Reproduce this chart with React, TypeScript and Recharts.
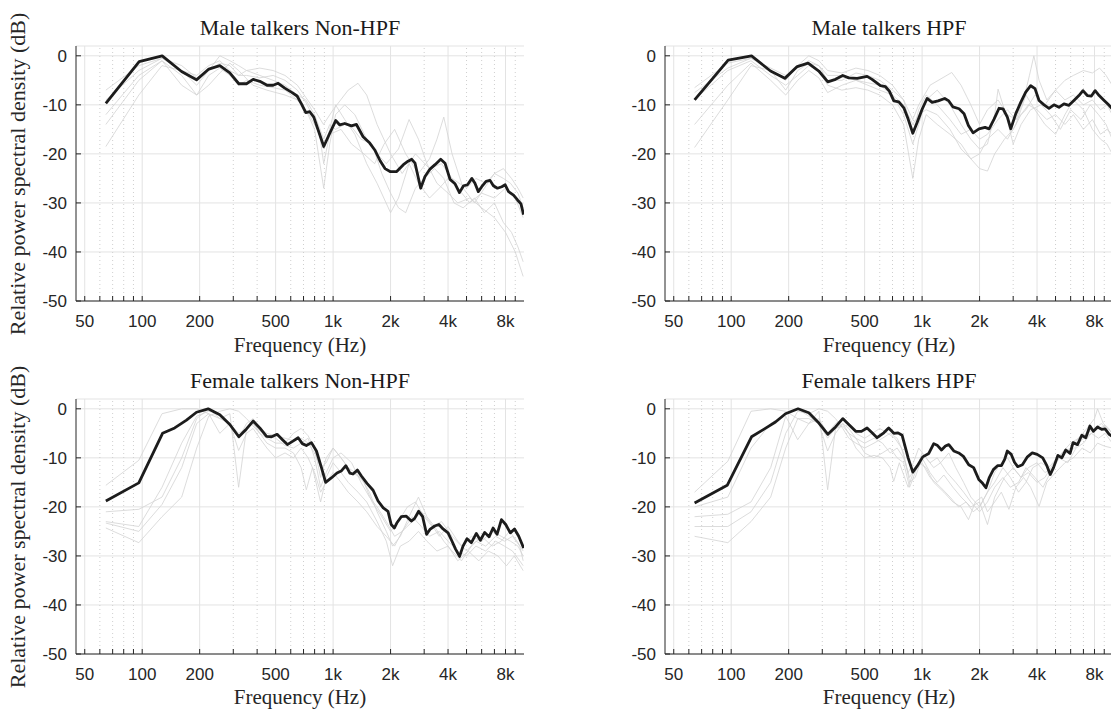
import React from 'react';
import { LineChart, Line, XAxis, YAxis, CartesianGrid, ReferenceLine } from 'recharts';

type Pt = [number, number];

// ---------- axes ----------
const xMajorTicks = [50, 100, 200, 500, 1000, 2000, 4000, 8000];
const xMajorLabels = ['50', '100', '200', '500', '1k', '2k', '4k', '8k'];
const xMinorTicks = [60, 70, 80, 90, 300, 400, 600, 700, 800, 900, 3000, 5000, 6000, 7000, 9000];
const yTicks = [-50, -40, -30, -20, -10, 0];
const xDomain: [number, number] = [45, 10000];
const yDomain: [number, number] = [-50, 2];

const panelTitles = ['Male talkers Non-HPF', 'Male talkers HPF', 'Female talkers Non-HPF', 'Female talkers HPF'];
const xAxisTitle = 'Frequency (Hz)';
const yAxisTitle = 'Relative power spectral density (dB)';

// ---------- Male talkers Non-HPF ----------
const maleNonHpfMean: Pt[] = [[64.5,-9.7],[96.4,-1.2],[127.3,0],[160.7,-3.2],[192.5,-4.9],[223.4,-2.7],[255,-2.0],[287.7,-3.5],[320.7,-5.7],[351.8,-5.7],[381.3,-4.8],[413.2,-5.2],[451.2,-6.0],[485.2,-6.0],[515.3,-5.6],[558.4,-6.6],[609.9,-7.5],[647.7,-8.2],[682.6,-9.8],[719.3,-11.6],[754.8,-11.4],[792.1,-12.5],[844.6,-15.7],[893.4,-18.5],[960.5,-15.8],[1032,-13.2],[1084,-14.1],[1151,-13.8],[1247,-14.3],[1325,-14.0],[1436,-16.5],[1556,-17.8],[1653,-19.2],[1763,-21.4],[1870,-23.0],[1988,-23.6],[2154,-23.6],[2334,-22.2],[2470,-21.5],[2582,-21.1],[2687,-21.9],[2876,-27.0],[3030,-24.6],[3218,-23.1],[3419,-22.2],[3662,-21.1],[3857,-21.9],[4098,-25.2],[4354,-26.1],[4590,-27.9],[4822,-26.5],[5060,-26.3],[5334,-25.0],[5534,-26.0],[5763,-27.7],[6005,-26.7],[6327,-25.6],[6640,-25.4],[6911,-26.5],[7260,-27.0],[7650,-26.7],[7969,-26.3],[8300,-27.7],[8810,-28.4],[9250,-29.4],[9640,-30.2],[9950,-32.4]];
const maleNonHpfT1: Pt[] = [[64.5,-7],[96,-2],[127,-0.5],[161,-3],[193,-4],[223,-2],[255,-1],[288,-3],[320,-4],[352,-3],[413,-2.5],[485,-3],[560,-4],[650,-6],[720,-8.5],[800,-11],[890,-14],[1000,-11],[1200,-7],[1350,-5.6],[1500,-8],[1700,-14],[2000,-20],[2300,-24],[2700,-20],[3200,-23],[3700,-22],[4200,-25],[5000,-27],[5600,-25],[6300,-26],[7000,-24],[7800,-25],[8500,-26],[9300,-28],[9900,-31]];
const maleNonHpfT2: Pt[] = [[64.5,-14],[96,-5],[127,-1],[161,-4],[193,-8],[223,-6],[255,-3.5],[288,-1.5],[320,-3],[380,-6],[450,-7],[560,-8],[650,-9],[720,-11],[800,-15],[893,-27],[960,-18],[1030,-12],[1150,-10],[1300,-12],[1500,-17],[1700,-20],[1900,-22],[2200,-19],[2500,-13],[2800,-17],[3100,-22],[3500,-26],[4000,-28],[4500,-30],[5200,-29],[6000,-31],[7000,-33],[8000,-36],[9000,-40],[9900,-45]];
const maleNonHpfT3: Pt[] = [[64.5,-18.5],[96,-8],[127,-2],[161,-3],[193,-6],[223,-3],[255,0],[288,-1],[320,-2],[352,-3],[413,-4],[485,-5],[560,-6],[650,-8],[720,-9],[800,-12],[893,-17],[960,-14],[1030,-15],[1150,-14],[1250,-14.5],[1400,-17],[1600,-18],[1800,-24],[2000,-28],[2200,-31],[2400,-32],[2700,-27],[3000,-25],[3400,-23],[3800,-25],[4300,-30],[4800,-31],[5500,-29],[6200,-32],[7000,-30],[7800,-34],[8600,-36],[9300,-39],[9900,-42]];
const maleNonHpfT4: Pt[] = [[64.5,-12],[96,-4],[127,-1],[161,-6],[193,-8],[223,-4],[255,-2.5],[288,-4],[320,-6],[352,-5],[413,-6],[485,-6.5],[560,-7],[650,-9],[750,-12],[850,-16],[893,-22],[960,-16],[1100,-15],[1250,-18],[1450,-20],[1650,-22],[1850,-18],[2100,-15],[2400,-20],[2800,-24],[3200,-21],[3500,-17],[3800,-12.5],[4200,-20],[4800,-27],[5500,-30],[6200,-27],[7000,-24],[7800,-23],[8600,-25],[9300,-27],[9900,-29]];
const maleNonHpfT5: Pt[] = [[64.5,-9],[96,-3],[127,-0.5],[161,-2],[193,-4.5],[223,-3],[255,-1.5],[288,-2],[320,-4],[352,-4],[413,-4.5],[485,-4],[560,-5],[650,-7],[720,-9.5],[800,-13],[893,-19],[960,-15],[1030,-10],[1150,-13],[1300,-16],[1500,-22],[1700,-26],[2000,-32],[2200,-29],[2500,-22],[2800,-26],[3200,-29],[3600,-27],[4000,-25],[4500,-27],[5200,-30],[6000,-28],[7000,-29],[8000,-27],[9000,-29],[9900,-33]];

// ---------- Male talkers HPF ----------
const maleHpfMean: Pt[] = [[64.3,-9.0],[96.4,-0.9],[127.8,0],[160.7,-3.1],[191,-4.6],[221.6,-2.2],[253,-1.5],[287.7,-3.1],[320.7,-5.3],[351.8,-4.8],[384,-4.0],[413,-4.5],[457,-4.6],[515,-4.2],[547,-4.8],[605,-6.1],[643,-6.3],[674,-7.2],[711,-9.2],[755,-9.4],[802,-10.6],[845,-12.9],[894,-15.8],[942,-13.6],[1000,-10.9],[1062,-8.7],[1128,-9.5],[1213,-9.2],[1314,-8.7],[1380,-9.2],[1449,-10.4],[1562,-10.8],[1659,-11.8],[1748,-14.2],[1849,-15.7],[1987,-14.9],[2137,-14.6],[2244,-14.9],[2382,-12.9],[2530,-10.7],[2653,-10.8],[2797,-12.5],[2914,-14.9],[3096,-11.8],[3286,-9.5],[3490,-7.4],[3706,-6.1],[3904,-6.7],[4098,-9.1],[4353,-10.0],[4620,-10.7],[4907,-10.0],[5211,-10.5],[5534,-9.8],[5877,-10.1],[6241,-9.1],[6628,-8.1],[6961,-7.1],[7335,-8.1],[7705,-8.2],[8062,-7.1],[8461,-8.1],[8985,-9.1],[9542,-10.1],[9900,-10.8]];
const maleHpfT1: Pt[] = [[64.3,-6.5],[96,-1.5],[127,-0.5],[161,-3],[193,-5],[223,-2],[255,0],[288,-1],[320,-3],[380,-3.5],[450,-2.5],[520,-3],[600,-4],[700,-6],[800,-9],[894,-13],[960,-10],[1100,-6],[1430,-3.4],[1600,-6],[1800,-10],[2000,-14],[2200,-11],[2500,-9],[2800,-12],[3100,-13],[3400,-9],[3650,-4],[3850,0],[4100,-5],[4500,-9],[5000,-7],[5600,-9],[6200,-8],[7000,-10],[7800,-9],[8600,-11],[9300,-10],[9900,-12]];
const maleHpfT2: Pt[] = [[64.3,-8.9],[96,-3],[127,-1],[161,-4],[193,-6],[223,-4],[255,-2],[288,-3],[320,-6],[380,-7],[450,-6.5],[520,-7],[600,-8],[700,-10],[800,-14],[894,-25],[960,-17],[1050,-12],[1200,-14],[1400,-16],[1600,-18],[1800,-21],[2000,-23],[2200,-23.5],[2400,-20],[2700,-17],[3000,-15],[3300,-12],[3600,-10],[4000,-11],[4500,-13],[5000,-12],[5600,-14],[6200,-12],[7000,-15],[7800,-13],[8600,-16],[9300,-15],[9900,-16]];
const maleHpfT3: Pt[] = [[64.3,-14],[96,-6],[127,-1.5],[161,-5],[193,-8],[223,-5],[255,-3],[288,-4.5],[320,-7.5],[380,-6],[450,-5],[520,-6],[600,-7],[700,-8],[800,-12],[894,-18],[960,-14],[1050,-9],[1200,-7],[1400,-10],[1600,-14],[1800,-17],[2000,-19],[2200,-18],[2400,-12],[2500,-6.8],[2750,-12],[3000,-18],[3300,-14],[3700,-11],[4200,-10],[4700,-12],[5300,-15],[6000,-11],[6800,-13],[7600,-10],[8400,-12],[9200,-14],[9900,-17]];
const maleHpfT4: Pt[] = [[64.3,-18.7],[96,-9],[127,-2],[161,-3],[193,-7],[223,-3],[255,-1.5],[288,-2],[320,-4],[380,-4],[450,-5],[520,-5.5],[600,-6],[700,-8],[800,-10],[894,-14],[960,-12],[1050,-11],[1200,-12],[1400,-15],[1600,-19],[1800,-21],[2000,-20],[2200,-17],[2500,-15],[2800,-17],[3100,-14],[3500,-8],[3900,-11],[4400,-14],[5000,-16],[5600,-12],[6200,-9],[7000,-11],[7800,-15],[8600,-17],[9300,-18],[9900,-20]];
const maleHpfT5: Pt[] = [[64.3,-7.5],[96,-2.5],[127,-0.5],[161,-2.5],[193,-4],[223,-2.5],[255,-1],[288,-2],[320,-5],[380,-5],[450,-3.5],[520,-4],[600,-5],[700,-7],[800,-9],[894,-16],[960,-11],[1050,-8],[1200,-10],[1400,-13],[1600,-16],[1800,-15],[2000,-17],[2200,-16],[2500,-13],[2800,-11],[3100,-13],[3500,-11],[3900,-8],[4400,-10],[5000,-7],[5600,-5],[6200,-4],[7000,-3],[7800,-3.5],[8500,-2.5],[9200,-4],[9900,-6]];

// ---------- Female talkers Non-HPF ----------
const femaleNonHpfMean: Pt[] = [[64.5,-18.8],[96,-15.1],[127.8,-5.0],[148,-3.9],[170.6,-2.3],[192.5,-0.7],[221.6,0],[255,-1.2],[287.7,-3.2],[320.7,-5.7],[351.8,-4.1],[381,-2.5],[413,-3.9],[448,-5.6],[476,-5.7],[509,-5.2],[543,-6.3],[576,-7.3],[616,-6.6],[656,-5.9],[690,-7.1],[724,-7.5],[770,-6.9],[818,-8.6],[869,-12.0],[914,-15.0],[979,-14.1],[1048,-13.1],[1102,-12.7],[1166,-11.6],[1224,-13.1],[1271,-13.3],[1341,-12.5],[1407,-13.7],[1505,-15.2],[1620,-16.6],[1720,-18.8],[1831,-20.2],[1939,-20.9],[2015,-23.6],[2095,-24.3],[2156,-23.3],[2275,-22.0],[2418,-21.9],[2568,-22.9],[2669,-22.4],[2807,-20.9],[2945,-22.0],[3091,-25.6],[3215,-24.6],[3406,-23.9],[3584,-23.6],[3767,-24.5],[4000,-25.3],[4163,-26.7],[4381,-28.6],[4597,-30.1],[4793,-28.0],[5030,-26.5],[5302,-27.3],[5628,-25.4],[5908,-26.8],[6223,-25.2],[6560,-26.1],[6887,-24.3],[7225,-25.6],[7617,-22.6],[8022,-23.6],[8480,-25.3],[8920,-24.5],[9386,-26.0],[9955,-28.4]];
const femaleNonHpfT1: Pt[] = [[64.5,-15.6],[96,-10.5],[127,-1],[161,0],[193,0],[223,-1],[255,-2],[288,-3],[320,-6],[352,-3],[381,-2],[413,-4],[450,-5],[500,-5.5],[560,-6],[620,-6.5],[680,-6],[740,-7],[800,-9],[860,-12],[920,-11],[1000,-8],[1100,-10],[1200,-12],[1300,-13],[1450,-15],[1600,-19],[1800,-22],[2000,-25],[2200,-23],[2450,-20],[2700,-19],[3000,-22],[3300,-24],[3700,-23],[4200,-26],[4700,-28],[5300,-26],[6000,-27],[6800,-25],[7600,-26],[8500,-27],[9300,-28],[9900,-30]];
const femaleNonHpfT2: Pt[] = [[64.5,-21],[96,-20.5],[127,-18],[161,-10],[193,-2],[223,0],[255,-2],[288,-1],[320,-16],[352,-4],[381,-3],[413,-5],[450,-7],[500,-8],[560,-8],[620,-9],[680,-12],[724,-16.5],[780,-12],[860,-19],[920,-14],[1000,-11],[1100,-13],[1200,-15],[1350,-17],[1500,-19],[1700,-23],[1900,-27],[2050,-32],[2250,-28],[2500,-27],[2800,-25],[3100,-27],[3500,-29],[4000,-28],[4500,-31],[5100,-29],[5800,-31],[6500,-29],[7300,-30],[8100,-32],[8900,-30],[9900,-33]];
const femaleNonHpfT3: Pt[] = [[64.5,-23.3],[96,-25],[127,-19.5],[161,-12],[193,-3],[223,-1],[255,-5],[288,-3],[320,-8.5],[352,-5],[381,-4],[413,-6],[450,-8],[500,-10],[560,-9],[620,-10],[680,-8],[740,-10],[800,-13],[860,-17],[920,-15],[1000,-13],[1100,-15],[1200,-17],[1350,-19],[1500,-21],[1700,-24],[1900,-26],[2100,-28],[2300,-25],[2600,-22],[2900,-24],[3200,-26],[3600,-25],[4000,-27],[4500,-29],[5000,-30],[5600,-28],[6300,-29],[7100,-27],[7900,-28],[8700,-29],[9500,-31],[9900,-32]];
const femaleNonHpfT4: Pt[] = [[64.5,-24.3],[96,-27.3],[127,-22],[161,-18],[193,-8],[223,-1.5],[255,-0.5],[288,0],[320,-0.5],[352,-2],[381,-3.5],[413,-5],[450,-6],[500,-7],[560,-7],[620,-5],[680,-4],[740,-5.5],[800,-8],[860,-14],[920,-10],[1000,-8],[1100,-10],[1250,-13],[1400,-14],[1550,-17],[1700,-21],[1900,-25],[2050,-28],[2250,-26],[2500,-22],[2800,-18],[3100,-22],[3400,-24],[3800,-27],[4200,-29],[4700,-31],[5300,-28],[6000,-26],[6800,-28],[7600,-27],[8400,-25],[9200,-27],[9900,-29]];
const femaleNonHpfT5: Pt[] = [[64.5,-23],[96,-24],[127,-16],[161,-7],[193,-1.5],[223,-0.5],[255,-1],[288,-3],[320,-5],[352,-4],[381,-3],[413,-4.5],[450,-5.5],[500,-6],[560,-7.5],[620,-8],[680,-7],[740,-6],[800,-10],[860,-16],[920,-13],[1000,-10],[1100,-9],[1250,-11],[1400,-15],[1550,-18],[1700,-20],[1900,-23],[2100,-26],[2300,-25],[2600,-23],[2900,-21],[3200,-23],[3600,-26],[4000,-24],[4500,-27],[5000,-29],[5600,-27],[6300,-28],[7100,-26],[7900,-27],[8700,-26],[9500,-28],[9900,-31]];

// ---------- Female talkers HPF ----------
const femaleHpfMean: Pt[] = [[64.3,-19.2],[95.3,-15.6],[127.8,-5.7],[148,-4.2],[170.6,-2.7],[192.5,-1.0],[224,0],[255,-0.8],[288,-2.9],[321,-5.2],[352,-3.7],[384,-2.0],[413,-3.2],[449,-4.6],[481,-4.6],[515,-3.9],[547,-4.9],[581,-5.9],[630,-4.9],[668,-3.9],[711,-5.0],[748,-4.9],[786,-5.4],[845,-10.0],[894,-12.9],[942,-11.7],[1008,-9.8],[1084,-9.1],[1151,-7.1],[1205,-7.5],[1264,-8.4],[1325,-7.6],[1380,-7.3],[1465,-8.6],[1555,-9.0],[1646,-9.7],[1755,-11.4],[1862,-12.0],[1981,-14.4],[2075,-15.2],[2159,-16.1],[2245,-14.1],[2362,-12.4],[2484,-11.6],[2604,-11.6],[2707,-10.3],[2795,-8.6],[2932,-9.3],[3047,-10.9],[3167,-11.8],[3353,-11.4],[3562,-9.8],[3776,-9.0],[4008,-9.3],[4285,-10.0],[4504,-11.6],[4689,-13.4],[4882,-12.0],[5143,-9.5],[5393,-10.0],[5657,-8.4],[5958,-9.1],[6178,-6.9],[6517,-7.3],[6862,-5.4],[7202,-5.9],[7570,-3.5],[7888,-4.6],[8297,-3.7],[8725,-4.2],[9090,-4.1],[9551,-5.2],[9900,-5.6]];
const femaleHpfT1: Pt[] = [[64.3,-17],[96,-10.7],[127,-0.5],[161,0],[193,-0.5],[223,-2],[255,-3],[288,-2],[320,-5],[352,-3],[384,-2],[413,-3],[450,-5],[500,-6],[550,-5],[600,-4],[660,-5],[720,-6],[780,-8],[845,-13],[900,-11],[960,-8],[1050,-10],[1150,-12],[1250,-11],[1380,-9],[1500,-12],[1650,-15],[1800,-18],[2000,-20],[2200,-17],[2400,-13],[2600,-11],[2800,-10],[3000,-12],[3300,-14],[3600,-12],[4000,-11],[4400,-13],[4900,-12],[5400,-9],[6000,-8],[6600,-6],[7300,-5],[8000,-4],[8700,-3],[9400,-4.5],[9900,-6]];
const femaleHpfT2: Pt[] = [[64.3,-22],[96,-21.5],[127,-19],[161,-12],[193,-1.5],[223,-6.3],[255,-3],[288,-0.5],[320,-16.5],[352,-4],[384,-3],[413,-5],[450,-8],[500,-10],[560,-9.5],[620,-10],[680,-12],[710,-14.8],[760,-11],[845,-16],[900,-13],[960,-11],[1050,-12],[1150,-15],[1300,-17],[1450,-19],[1600,-20],[1750,-22.6],[1900,-19],[2050,-18],[2200,-21],[2400,-19],[2600,-17],[2850,-20.5],[3100,-16],[3400,-14],[3700,-16],[4100,-19.9],[4500,-15],[5000,-13],[5600,-11],[6200,-10],[6900,-8],[7600,-9],[8300,-7],[9000,-7.6],[9900,-8]];
const femaleHpfT3: Pt[] = [[64.3,-24],[96,-24],[127,-21],[161,-15],[193,-5],[223,-0.5],[255,-1],[288,0],[320,-0.5],[352,-2],[384,-4],[413,-6],[450,-7],[500,-8],[560,-7],[620,-6],[680,-5],[740,-6],[800,-9],[860,-15],[920,-14],[1000,-10],[1100,-13],[1200,-15],[1300,-13.5],[1450,-16],[1600,-18],[1800,-20],[2000,-19],[2200,-23.6],[2400,-18],[2700,-14],[3000,-12],[3300,-14],[3600,-13],[4000,-15],[4400,-14],[4900,-11],[5400,-9],[6000,-7],[6600,-6],[7300,-4],[8000,-2],[8300,0],[8900,-3],[9500,-4],[9900,-5]];
const femaleHpfT4: Pt[] = [[64.3,-26],[96,-27.3],[127,-23],[161,-18],[193,-8],[223,-2],[255,-2],[288,-3],[320,-8.6],[352,-5],[384,-3],[413,-4],[450,-6],[500,-9],[560,-10],[620,-9],[680,-8],[740,-10],[800,-11],[860,-16],[920,-13],[1000,-9],[1100,-11],[1200,-10],[1350,-13],[1500,-15],[1650,-17],[1800,-19],[2000,-21],[2200,-19],[2400,-16],[2650,-14],[2900,-16],[3200,-15],[3500,-12],[3900,-14],[4300,-16],[4700,-13],[5200,-10],[5800,-11],[6400,-8],[7000,-7],[7700,-5],[8400,-6],[9100,-5],[9900,-7]];
const femaleHpfT5: Pt[] = [[64.3,-20],[96,-18],[127,-8],[161,-3],[193,-1],[223,0],[255,-1.5],[288,-3],[320,-6],[352,-4],[384,-3.5],[413,-5],[450,-6],[500,-7],[560,-6],[620,-7],[680,-9],[740,-8],[800,-10],[860,-14],[920,-12],[1000,-11],[1100,-14],[1250,-16],[1400,-18],[1550,-20],[1700,-19],[1850,-21],[2000,-20],[2200,-17],[2400,-15],[2650,-12],[2900,-14],[3200,-17],[3500,-15],[3800,-12],[4200,-11],[4600,-12],[5100,-10],[5700,-9],[6300,-8],[7000,-6],[7700,-5],[8400,-4],[9100,-3.5],[9900,-5]];

const toRows = (pts: Pt[]) => pts.map(([f, v]) => ({ f, v }));

const AXIS_COLOR = '#262626';
const SANS = '"Liberation Sans", Arial, Helvetica, sans-serif';
const SERIF = '"Liberation Serif", "Times New Roman", serif';

const allXTicks = [...xMajorTicks, ...xMinorTicks].sort((a, b) => a - b);

const XTick = (props: any) => {
  const { x, y, payload } = props;
  const idx = xMajorTicks.indexOf(payload.value);
  if (idx < 0) return <g />;
  return (
    <text x={x} y={y} textAnchor="middle" fill={AXIS_COLOR} fontSize={17} fontFamily={SANS}>
      {xMajorLabels[idx]}
    </text>
  );
};

const YTick = (props: any) => {
  const { x, y, payload } = props;
  return (
    <text x={x} y={y} dy="0.36em" textAnchor="end" fill={AXIS_COLOR} fontSize={17} fontFamily={SANS}>
      {String(payload.value)}
    </text>
  );
};

const CHART_W = 560;
const CHART_H = 355;

function Panel({ mean, talkers, left, top }: { mean: Pt[]; talkers: Pt[][]; left: number; top: number }) {
  return (
    <div style={{ position: 'absolute', left, top, width: CHART_W, height: CHART_H }}>
      <LineChart width={CHART_W} height={CHART_H} margin={{ top: 46, right: 36, bottom: 24, left: 26 }}>
        <CartesianGrid vertical={false} stroke="#e3e3e3" strokeWidth={1} />
        {xMinorTicks.map((t) => (
          <ReferenceLine key={'mn' + t} x={t} stroke="#cfcfcf" strokeDasharray="1 3" strokeWidth={1} />
        ))}
        {xMajorTicks.map((t) => (
          <ReferenceLine key={'mj' + t} x={t} stroke="#e3e3e3" strokeWidth={1} />
        ))}
        <XAxis
          dataKey="f"
          type="number"
          scale="log"
          domain={xDomain}
          allowDataOverflow
          ticks={allXTicks}
          interval={0}
          tickSize={-5}
          tickMargin={31}
          tick={<XTick />}
          stroke={AXIS_COLOR}
          height={30}
        />
        <XAxis
          xAxisId="top"
          orientation="top"
          dataKey="f"
          type="number"
          scale="log"
          domain={xDomain}
          allowDataOverflow
          ticks={allXTicks}
          interval={0}
          tickSize={-5}
          tick={false}
          stroke={AXIS_COLOR}
          height={0}
        />
        <YAxis
          type="number"
          domain={yDomain}
          allowDataOverflow
          ticks={yTicks}
          interval={0}
          tickSize={-5}
          tickMargin={14}
          tick={<YTick />}
          stroke={AXIS_COLOR}
          width={50}
        />
        <YAxis
          yAxisId="right"
          orientation="right"
          type="number"
          domain={yDomain}
          allowDataOverflow
          ticks={yTicks}
          interval={0}
          tickSize={-5}
          tick={false}
          stroke={AXIS_COLOR}
          width={0}
        />
        {talkers.map((t, i) => (
          <Line
            key={'t' + i}
            data={toRows(t)}
            dataKey="v"
            type="linear"
            stroke="#d3d3d3"
            strokeWidth={0.8}
            dot={false}
            activeDot={false}
            isAnimationActive={false}
          />
        ))}
        <Line
          data={toRows(mean)}
          dataKey="v"
          type="linear"
          stroke="#1c1c1c"
          strokeWidth={2.8}
          strokeLinejoin="round"
          dot={false}
          activeDot={false}
          isAnimationActive={false}
        />
      </LineChart>
    </div>
  );
}

export default function App() {
  const leftX = 0;
  const rightX = 589;
  const topY = 0;
  const botY = 353;
  return (
    <div style={{ position: 'absolute', left: 0, top: 0, width: 1111, height: 709, overflow: 'hidden', background: '#fff' }}>
      <Panel mean={maleNonHpfMean} talkers={[maleNonHpfT1, maleNonHpfT2, maleNonHpfT3, maleNonHpfT4, maleNonHpfT5]} left={leftX} top={topY} />
      <Panel mean={maleHpfMean} talkers={[maleHpfT1, maleHpfT2, maleHpfT3, maleHpfT4, maleHpfT5]} left={rightX} top={topY} />
      <Panel mean={femaleNonHpfMean} talkers={[femaleNonHpfT1, femaleNonHpfT2, femaleNonHpfT3, femaleNonHpfT4, femaleNonHpfT5]} left={leftX} top={botY} />
      <Panel mean={femaleHpfMean} talkers={[femaleHpfT1, femaleHpfT2, femaleHpfT3, femaleHpfT4, femaleHpfT5]} left={rightX} top={botY} />
      <svg width={1111} height={709} style={{ position: 'absolute', left: 0, top: 0, pointerEvents: 'none' }}>
        <g fontFamily={SERIF} fill="#1a1a1a" fontSize={22} textAnchor="middle">
          <text x={300} y={35}>{panelTitles[0]}</text>
          <text x={889} y={35}>{panelTitles[1]}</text>
          <text x={300} y={388}>{panelTitles[2]}</text>
          <text x={889} y={388}>{panelTitles[3]}</text>
        </g>
        <g fontFamily={SERIF} fill={AXIS_COLOR} fontSize={21} textAnchor="middle">
          <text x={300} y={352}>{xAxisTitle}</text>
          <text x={889} y={352}>{xAxisTitle}</text>
          <text x={300} y={704}>{xAxisTitle}</text>
          <text x={889} y={704}>{xAxisTitle}</text>
        </g>
        <g fontFamily={SERIF} fill={AXIS_COLOR} fontSize={22} textAnchor="middle">
          <text transform="translate(25,174) rotate(-90)">{yAxisTitle}</text>
          <text transform="translate(25,527) rotate(-90)">{yAxisTitle}</text>
        </g>
      </svg>
    </div>
  );
}
